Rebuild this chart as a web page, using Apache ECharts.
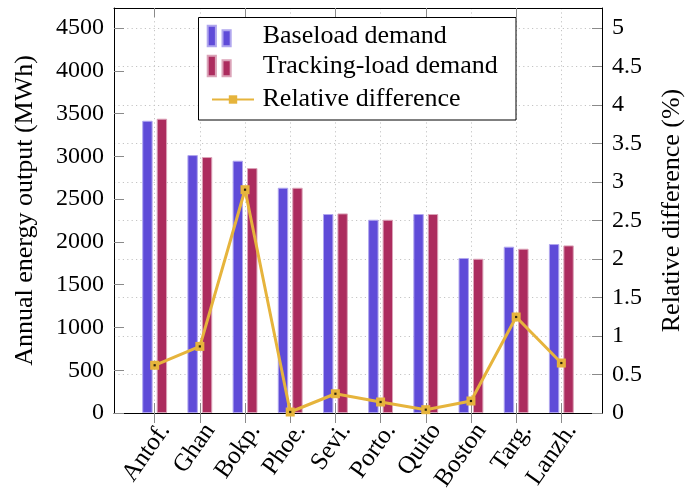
<!DOCTYPE html>
<html>
<head>
<meta charset="utf-8">
<script src="https://cdn.jsdelivr.net/npm/echarts@6/dist/echarts.min.js"></script>
<style>
html,body{margin:0;padding:0;background:#fff;}
#c{width:685px;height:498px;}
</style>
</head>
<body>
<div id="c"></div>
<script>
const categories = ['Antof.', 'Ghan', 'Bokp.', 'Phoe.', 'Sevi.', 'Porto.', 'Quito', 'Boston', 'Targ.', 'Lanzh.'];
const baseload = [3416, 3015, 2949, 2633, 2326, 2259, 2326, 1812, 1944, 1975];
const tracking = [3440, 2992, 2863, 2633, 2333, 2259, 2326, 1803, 1920, 1959];
const relDiff = [0.62, 0.865, 2.90, 0.013, 0.25, 0.143, 0.043, 0.156, 1.247, 0.649];
const leftTicks = [0, 500, 1000, 1500, 2000, 2500, 3000, 3500, 4000, 4500];
const rightTicks = [0, 0.5, 1, 1.5, 2, 2.5, 3, 3.5, 4, 4.5, 5];

const FONT = "'Liberation Serif', 'Times New Roman', serif";
const idx = categories.map((c, i) => i);
const topIdx = idx.filter(i => i % 2 === 0);
const toPts = arr => arr.map((v, i) => [i, v]);
const dotted = { color: '#c4c4c4', width: 1, type: [1.2, 3.2] };
const tickStyle = { color: '#8a8a8a', width: 1 };
const barIcon = 'path://M0,0H8.3V20.7H0Z M15,4.6H23.3V20.7H15Z';

const chart = echarts.init(document.getElementById('c'), null, { renderer: 'canvas' });
chart.setOption({
  animation: false,
  backgroundColor: '#fff',
  grid: { left: 114, right: 83, top: 8, bottom: 85, containLabel: false, outerBoundsMode: 'none' },
  xAxis: [
    {
      type: 'value', position: 'bottom', min: -0.9, max: 9.9,
      axisLine: { show: true, onZero: false, lineStyle: { color: '#000', width: 1 } },
      axisTick: { show: true, inside: false, length: 10, customValues: idx, lineStyle: tickStyle },
      axisLabel: {
        customValues: idx, rotate: 55, margin: 6, verticalAlign: 'top',
        formatter: v => categories[Math.round(v)] || '',
        fontFamily: FONT, fontSize: 25, color: '#000'
      },
      splitLine: { show: true, lineStyle: dotted }
    },
    {
      type: 'value', position: 'bottom', min: -0.9, max: 9.9,
      axisLine: { show: false },
      axisTick: { show: true, inside: true, length: 10, customValues: idx, lineStyle: tickStyle },
      axisLabel: { show: false },
      splitLine: { show: false }
    },
    {
      type: 'value', position: 'top', min: -0.9, max: 9.9,
      axisLine: { show: true, onZero: false, lineStyle: { color: '#000', width: 1 } },
      axisTick: { show: true, inside: true, length: 9, customValues: topIdx, lineStyle: tickStyle },
      axisLabel: { show: false },
      splitLine: { show: false }
    }
  ],
  yAxis: [
    {
      type: 'value', position: 'left', min: 0, max: 4734, interval: 500,
      name: 'Annual energy output (MWh)', nameLocation: 'middle', nameRotate: 90, nameGap: 76,
      nameTextStyle: { fontFamily: FONT, fontSize: 26, color: '#000' },
      axisLine: { show: true, onZero: false, lineStyle: { color: '#000', width: 1 } },
      axisTick: { show: true, inside: true, length: 10, lineStyle: tickStyle },
      axisLabel: { margin: 10, showMaxLabel: false, fontFamily: FONT, fontSize: 24, color: '#000',
        formatter: v => leftTicks.includes(v) ? String(v) : '' },
      splitLine: { show: false }
    },
    {
      type: 'value', position: 'right', min: 0, max: 5.26, interval: 0.5,
      name: 'Relative difference (%)', nameLocation: 'middle', nameRotate: 90, nameGap: 57,
      nameTextStyle: { fontFamily: FONT, fontSize: 26, color: '#000' },
      axisLine: { show: true, onZero: false, lineStyle: { color: '#000', width: 1 } },
      axisTick: { show: true, inside: true, length: 10, lineStyle: tickStyle },
      axisLabel: { margin: 10, showMaxLabel: false, fontFamily: FONT, fontSize: 24, color: '#000',
        formatter: v => rightTicks.includes(v) ? String(v) : '' },
      splitLine: { show: true, lineStyle: dotted }
    }
  ],
  legend: [
    {
      data: [
        { name: 'Baseload demand', icon: barIcon },
        { name: 'Tracking-load demand', icon: barIcon }
      ],
      orient: 'vertical', left: 206.7, top: 23, padding: 0,
      itemWidth: 23, itemHeight: 21, itemGap: 4, selectedMode: false,
      textStyle: { fontFamily: FONT, fontSize: 26, color: '#000', lineHeight: 15, padding: [6, 0, 0, 27] }
    },
    {
      data: ['Relative difference'],
      orient: 'vertical', left: 211, top: 86.5, padding: 0,
      itemWidth: 42, itemHeight: 10.5, selectedMode: false,
      textStyle: { fontFamily: FONT, fontSize: 26, color: '#000', lineHeight: 10.5, padding: [0, 0, 0, 3.5] }
    }
  ],
  graphic: [
    {
      type: 'rect', z: 3, silent: true,
      shape: { x: 198.5, y: 17.5, width: 317.5, height: 102.5 },
      style: { fill: '#fff', stroke: '#000', lineWidth: 1 }
    }
  ],
  series: [
    {
      name: 'Baseload demand', type: 'bar', xAxisIndex: 0, yAxisIndex: 0,
      data: toPts(baseload), barWidth: 10.4, barGap: '39%',
      itemStyle: { color: '#5f4bd8', borderColor: '#b0a6ee', borderWidth: 1 }
    },
    {
      name: 'Tracking-load demand', type: 'bar', xAxisIndex: 0, yAxisIndex: 0,
      data: toPts(tracking), barWidth: 10.4, barGap: '39%',
      itemStyle: { color: '#ac2c5e', borderColor: '#dba3b8', borderWidth: 1 }
    },
    {
      name: 'Relative difference', type: 'line', xAxisIndex: 0, yAxisIndex: 1,
      data: toPts(relDiff), symbol: 'rect', symbolSize: 9, z: 5,
      lineStyle: { color: '#e6b43c', width: 3 },
      itemStyle: { color: '#e6b43c', borderWidth: 0 }
    },
    {
      name: 'dots', type: 'scatter', xAxisIndex: 0, yAxisIndex: 1, silent: true,
      data: toPts(relDiff), symbol: 'rect', symbolSize: 2.2, z: 6,
      itemStyle: { color: '#000' }
    }
  ]
});
</script>
</body>
</html>
